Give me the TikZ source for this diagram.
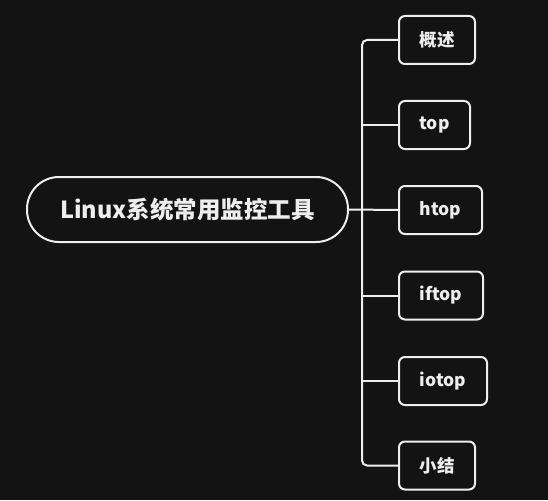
\documentclass[tikz,border=0pt]{standalone}
\usepackage{fontspec}
\setmainfont{Noto Sans CJK SC}
\definecolor{bg}{HTML}{131313}
\definecolor{fg}{HTML}{EEEEEE}
\begin{document}
\begin{tikzpicture}[x=1pt,y=-1pt,
  rootbox/.style={draw=fg,line width=2pt,rounded corners=32pt,fill=bg,text=fg,
    minimum width=321pt,minimum height=65pt,inner sep=0pt,
    font=\fontsize{23.5}{26}\selectfont\bfseries},
  leaf/.style={draw=fg,line width=2pt,rounded corners=6pt,fill=bg,text=fg,
    minimum height=48pt,inner sep=0pt,anchor=west,
    font=\fontsize{17.5}{20}\selectfont\bfseries},
  link/.style={draw=fg,line width=2pt}]
\fill[bg] (0,0) rectangle (548,500);
\useasboundingbox (0,0) rectangle (548,500);
\node[rootbox] (root) at (187.5,209.5) {Linux系统常用监控工具};
\node[leaf,minimum width=76pt] (c1) at (398,40) {概述};
\node[leaf,minimum width=71pt] (c2) at (398,125) {top};
\node[leaf,minimum width=83pt] (c3) at (398,210) {htop};
\node[leaf,minimum width=84pt] (c4) at (398,295.5) {iftop};
\node[leaf,minimum width=88pt] (c5) at (398,381) {iotop};
\node[leaf,minimum width=76pt] (c6) at (398,465.5) {小结};
\coordinate (t) at (362,0);
\draw[link,rounded corners=5pt] (c1.west) -- (t |- c1.west) -- (t |- c6.west) -- (c6.west);
\draw[link] (t |- c2.west) -- (c2.west);
\draw[link] (t |- c4.west) -- (c4.west);
\draw[link] (t |- c5.west) -- (c5.west);
\draw[link] (root.east) -- (c3.west);
\end{tikzpicture}
\end{document}
